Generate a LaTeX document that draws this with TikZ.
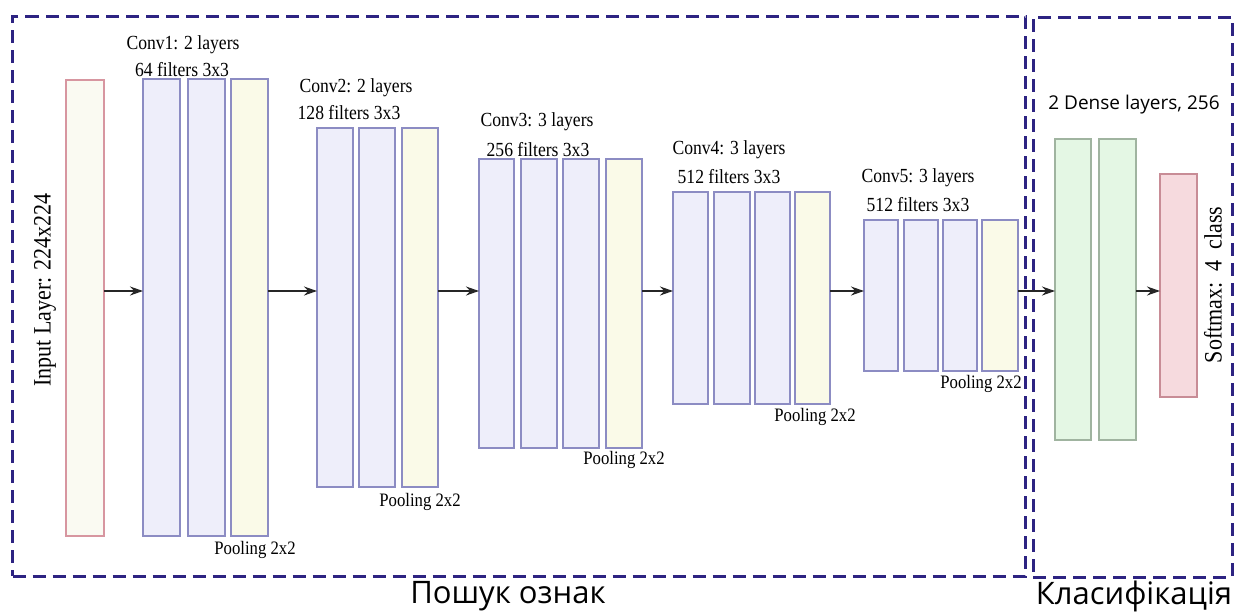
\documentclass[tikz,border=0pt]{standalone}
\usepackage{fontspec}
\setmainfont{Liberation Serif}
\newfontfamily\osans{Open Sans}
\usetikzlibrary{arrows.meta}
\definecolor{dashc}{RGB}{45,35,130}
\definecolor{convd}{RGB}{140,140,195}
\definecolor{convf}{RGB}{238,238,250}
\definecolor{poolf}{RGB}{250,250,232}
\definecolor{ind}{RGB}{215,150,160}
\definecolor{inf}{RGB}{250,250,242}
\definecolor{densed}{RGB}{160,180,160}
\definecolor{densef}{RGB}{228,247,228}
\definecolor{softd}{RGB}{200,140,150}
\definecolor{softf}{RGB}{246,218,222}
\newcommand\sq[1]{\scalebox{0.88}[1]{#1}}
\tikzset{
  lay/.style={draw, line width=1.1pt, inner sep=0pt, outer sep=0pt},
  convl/.style={lay, draw=convd, fill=convf},
  pooll/.style={lay, draw=convd, fill=poolf},
  inl/.style={lay, draw=ind, fill=inf},
  densel/.style={lay, draw=densed, fill=densef},
  softl/.style={lay, draw=softd, fill=softf},
  arr/.style={-{Stealth[length=13pt,width=9pt]}, line width=1.3pt, black!85},
  region/.style={draw=dashc, line width=3pt, dash pattern=on 13pt off 7pt},
  lbl/.style={font=\fontsize{20}{22}\selectfont, inner sep=0pt},
  plbl/.style={font=\fontsize{19}{21}\selectfont, inner sep=0pt},
  biglbl/.style={font=\fontsize{25}{27}\selectfont, inner sep=0pt, rotate=90},
  sanslbl/.style={font=\osans\fontsize{19}{21}\selectfont, inner sep=0pt},
  caption/.style={font=\osans\fontsize{31}{33}\selectfont, inner sep=0pt}
}
\newcommand\lyr[6]{\node[#2, minimum width={(#5-#3)*1pt}, minimum height={(#6-#4)*1pt}] (#1) at ({(#3+#5)/2},{(#4+#6)/2}) {};}
\begin{document}
\begin{tikzpicture}[x=1pt,y=-1pt]
\useasboundingbox (0,0) rectangle (1239,614);
\fill[white] (0,0) rectangle (1239,614);
% regions
\node[region, minimum width=1013pt, minimum height=560pt, inner sep=0pt] (feat) at (519,296) {};
\node[region, minimum width=199pt, minimum height=560pt, inner sep=0pt] (cls) at (1132.5,297) {};
% input
\lyr{inp}{inl}{66}{80}{104}{536}
% conv1
\lyr{c1a}{convl}{143}{79}{180}{536}
\lyr{c1b}{convl}{188}{79}{225}{536}
\lyr{c1p}{pooll}{231}{79}{268}{536}
% conv2
\lyr{c2a}{convl}{317}{128}{353}{487}
\lyr{c2b}{convl}{359}{128}{395}{487}
\lyr{c2p}{pooll}{402}{128}{438}{487}
% conv3
\lyr{c3a}{convl}{479}{159}{514}{448}
\lyr{c3b}{convl}{521}{159}{557}{448}
\lyr{c3c}{convl}{563}{159}{599}{448}
\lyr{c3p}{pooll}{606}{159}{642}{448}
% conv4
\lyr{c4a}{convl}{673}{192}{708}{404}
\lyr{c4b}{convl}{714}{192}{750}{404}
\lyr{c4c}{convl}{755}{192}{790}{404}
\lyr{c4p}{pooll}{795}{192}{830}{404}
% conv5
\lyr{c5a}{convl}{864}{220}{898}{371}
\lyr{c5b}{convl}{904}{220}{938}{371}
\lyr{c5c}{convl}{943}{220}{977}{371}
\lyr{c5p}{pooll}{982}{220}{1018}{371}
% dense
\lyr{d1}{densel}{1055}{139}{1091}{440}
\lyr{d2}{densel}{1099}{139}{1136}{440}
\lyr{sm}{softl}{1160}{174}{1197}{397}
% arrows
\coordinate (ay) at (0,291);
\draw[arr] (inp.east |- ay) -- (c1a.west |- ay);
\draw[arr] (c1p.east |- ay) -- (c2a.west |- ay);
\draw[arr] (c2p.east |- ay) -- (c3a.west |- ay);
\draw[arr] (c3p.east |- ay) -- (c4a.west |- ay);
\draw[arr] (c4p.east |- ay) -- (c5a.west |- ay);
\draw[arr] (c5p.east |- ay) -- (d1.west |- ay);
\draw[arr] (d2.east |- ay) -- (sm.west |- ay);
% labels
\node[biglbl] (tin) at (45,290) {\sq{Input Layer: 224x224}};
\node[lbl] (t1) at (183,45) {\sq{Conv1: 2 layers}};
\node[lbl] (f1) at (182,70) {\sq{64 filters 3x3}};
\node[plbl] (p1) at (255,550) {\sq{Pooling 2x2}};
\node[lbl] (t2) at (356,88) {\sq{Conv2: 2 layers}};
\node[lbl] (f2) at (349,113) {\sq{128 filters 3x3}};
\node[plbl] (p2) at (420,502) {\sq{Pooling 2x2}};
\node[lbl] (t3) at (537,122) {\sq{Conv3: 3 layers}};
\node[lbl] (f3) at (538,150) {\sq{256 filters 3x3}};
\node[plbl] (p3) at (624,460) {\sq{Pooling 2x2}};
\node[lbl] (t4) at (729,150) {\sq{Conv4: 3 layers}};
\node[lbl] (f4) at (729,177) {\sq{512 filters 3x3}};
\node[plbl] (p4) at (815,417) {\sq{Pooling 2x2}};
\node[lbl] (t5) at (918,178) {\sq{Conv5: 3 layers}};
\node[lbl] (f5) at (918,205) {\sq{512 filters 3x3}};
\node[plbl] (p5) at (981,384) {\sq{Pooling 2x2}};
\node[sanslbl] (td) at (1134,105) {2 Dense layers, 256};
\node[biglbl] (tsm) at (1213,285) {\sq{Softmax:\ \ 4\ \ class}};
\node[caption] (cf) at (508,596) {Пошук ознак};
\node[caption] (cc) at (1134,596) {Класифікація};
\end{tikzpicture}
\end{document}
